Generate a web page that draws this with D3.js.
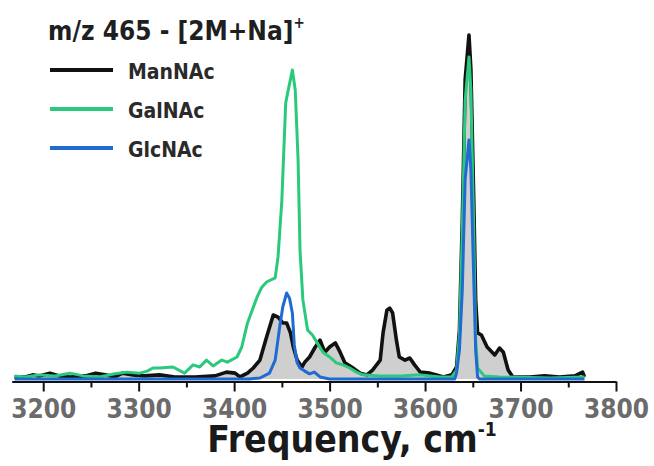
<!DOCTYPE html>
<html>
<head>
<meta charset="utf-8">
<script src="https://cdn.jsdelivr.net/npm/d3@7"></script>
<style>
  body { margin: 0; background: #fff; }
  text { font-family: 'DejaVu Sans Condensed', 'DejaVu Sans', sans-serif; font-weight: bold; }
</style>
</head>
<body>
<div id="grafico"></div>
<script>
// Tamaño de la figura
const w = 654;
const h = 466;

// Datos: [frecuencia (cm-1), intensidad relativa]
const manNAc = [
  [3170,0.006],[3181,0.006],[3189,0.012],[3196,0.009],[3207,0.017],[3217,0.009],[3228,0.006],
  [3244,0.009],[3255,0.017],[3265,0.012],[3275,0.006],[3283,0.017],[3294,0.012],[3306,0.009],
  [3322,0.012],[3338,0.006],[3359,0.006],[3380,0.009],[3392,0.02],[3401,0.017],[3406,0.006],
  [3414,0.017],[3420,0.032],[3427,0.055],[3434,0.122],[3441,0.186],[3446,0.18],[3451,0.163],
  [3455,0.163],[3459,0.134],[3462,0.093],[3466,0.055],[3471,0.035],[3474,0.049],[3479,0.064],
  [3485,0.093],[3490,0.113],[3495,0.078],[3500,0.093],[3506,0.105],[3511,0.078],[3516,0.047],
  [3523,0.035],[3532,0.017],[3539,0.012],[3545,0.026],[3553,0.055],[3556,0.134],[3560,0.2],
  [3563,0.206],[3566,0.192],[3570,0.113],[3573,0.064],[3579,0.055],[3584,0.061],[3589,0.041],
  [3595,0.02],[3605,0.017],[3612,0.012],[3619,0.006],[3628,0.012],[3633,0.035],[3636,0.142],
  [3639,0.46],[3642,0.87],[3646,1.0],[3648,0.9],[3651,0.52],[3653,0.23],[3655,0.134],
  [3659,0.128],[3665,0.093],[3673,0.07],[3678,0.09],[3682,0.078],[3687,0.026],[3692,0.006],
  [3710,0.006],[3725,0.009],[3741,0.006],[3757,0.009],[3765,0.02],[3767,0.006]
];

const galNAc = [
  [3170,0.009],[3181,0.006],[3196,0.012],[3212,0.009],[3228,0.017],[3242,0.009],[3259,0.006],
  [3275,0.015],[3288,0.02],[3301,0.017],[3309,0.023],[3315,0.032],[3322,0.032],[3336,0.035],
  [3348,0.017],[3357,0.041],[3364,0.035],[3371,0.055],[3378,0.038],[3387,0.055],[3393,0.049],
  [3403,0.064],[3408,0.093],[3414,0.163],[3424,0.238],[3429,0.267],[3434,0.282],[3443,0.294],
  [3446,0.355],[3450,0.52],[3454,0.802],[3456,0.831],[3461,0.898],[3464,0.84],[3467,0.637],
  [3469,0.375],[3472,0.23],[3477,0.142],[3482,0.128],[3487,0.105],[3493,0.078],[3500,0.064],
  [3507,0.047],[3514,0.041],[3521,0.032],[3528,0.02],[3535,0.012],[3553,0.009],[3574,0.009],
  [3595,0.012],[3605,0.009],[3616,0.006],[3628,0.006],[3633,0.026],[3636,0.128],[3639,0.43],
  [3642,0.81],[3646,0.936],[3648,0.84],[3651,0.43],[3653,0.113],[3655,0.032],[3662,0.009],
  [3678,0.006],[3731,0.003],[3767,0.006]
];

const glcNAc = [
  [3170,0.0],[3300,0.0],[3416,0.0],[3427,0.003],[3437,0.017],[3443,0.055],[3448,0.157],
  [3451,0.21],[3455,0.25],[3458,0.235],[3461,0.192],[3463,0.099],[3466,0.047],[3469,0.032],
  [3474,0.023],[3479,0.015],[3484,0.02],[3490,0.006],[3500,0.0],[3631,0.0],[3633,0.017],
  [3636,0.084],[3639,0.26],[3642,0.58],[3646,0.695],[3648,0.61],[3651,0.29],[3653,0.084],
  [3655,0.006],[3657,0.0],[3767,0.0]
];

const series = ['ManNAc', 'GalNAc', 'GlcNAc'];
const colores = ['#111111', '#2bc97c', '#1f6bd1'];
const ticksMayores = [3200, 3300, 3400, 3500, 3600, 3700, 3800];
const ticksMenores = [3250, 3350, 3450, 3550, 3650, 3750];

const svg = d3.select('#grafico')
  .append('svg')
  .attr('width', w)
  .attr('height', h);

// Escalas
const xScale = d3.scaleLinear()
  .domain([3167, 3800])
  .range([11.7, 616]);

const yScale = d3.scaleLinear()
  .domain([0, 1])
  .range([379, 35]);

const linea = d3.line()
  .x((d) => xScale(d[0]))
  .y((d) => yScale(d[1]));

// Área gris bajo ManNAc
svg.append('path')
  .datum(manNAc)
  .attr('fill', '#cfcfcf')
  .attr('d', d3.area()
    .x((d) => xScale(d[0]))
    .y0(yScale(0))
    .y1((d) => yScale(d[1])));

// Curvas
[manNAc, galNAc, glcNAc].forEach(function (datos, i) {
  svg.append('path')
    .datum(datos)
    .attr('fill', 'none')
    .attr('stroke', colores[i])
    .attr('stroke-width', i === 0 ? 3.6 : 3)
    .attr('stroke-linejoin', 'round')
    .attr('d', linea);
});

// Eje X: ticks menores
svg.append('g')
  .attr('transform', 'translate(0,381.5)')
  .call(d3.axisBottom(xScale).tickValues(ticksMenores).tickSize(6).tickFormat(''))
  .call((g) => g.select('.domain').remove())
  .selectAll('line')
  .attr('stroke', '#111')
  .attr('stroke-width', 2);

// Eje X: ticks mayores
const ejeX = svg.append('g')
  .attr('transform', 'translate(0,381.5)')
  .call(d3.axisBottom(xScale).tickValues(ticksMayores).tickSize(10).tickSizeOuter(0)
    .tickPadding(8).tickFormat(d3.format('')));

ejeX.select('.domain').attr('stroke', '#111').attr('stroke-width', 2);
ejeX.selectAll('line').attr('stroke', '#111').attr('stroke-width', 2);
ejeX.selectAll('text')
  .style('font-family', "'DejaVu Sans Condensed', 'DejaVu Sans', sans-serif")
  .style('font-weight', 'bold')
  .style('font-size', '26px')
  .attr('fill', '#6b6b6b');

// Título del eje X
const tituloX = svg.append('text')
  .attr('x', 352)
  .attr('y', 452)
  .attr('text-anchor', 'middle')
  .attr('fill', '#1a1a1a')
  .style('font-size', '37px');
tituloX.append('tspan').text('Frequency, cm');
tituloX.append('tspan')
  .attr('dy', -16)
  .style('font-size', '19px')
  .text('-1');

// Título
const titulo = svg.append('text')
  .attr('x', 48)
  .attr('y', 40)
  .attr('fill', '#1f1f1f')
  .style('font-size', '26px');
titulo.append('tspan').text('m/z 465 - [2M+Na]');
titulo.append('tspan')
  .attr('dy', -12)
  .style('font-size', '15px')
  .text('+');

// Leyenda
series.forEach(function (nombre, i) {
  const yL = 70 + i * 39;
  svg.append('line')
    .attr('x1', 50)
    .attr('x2', 113)
    .attr('y1', yL)
    .attr('y2', yL)
    .attr('stroke', colores[i])
    .attr('stroke-width', 4);
  svg.append('text')
    .attr('x', 128)
    .attr('y', yL + 9)
    .attr('fill', '#2a2a2a')
    .style('font-size', '21px')
    .text(nombre);
});
</script>
</body>
</html>
